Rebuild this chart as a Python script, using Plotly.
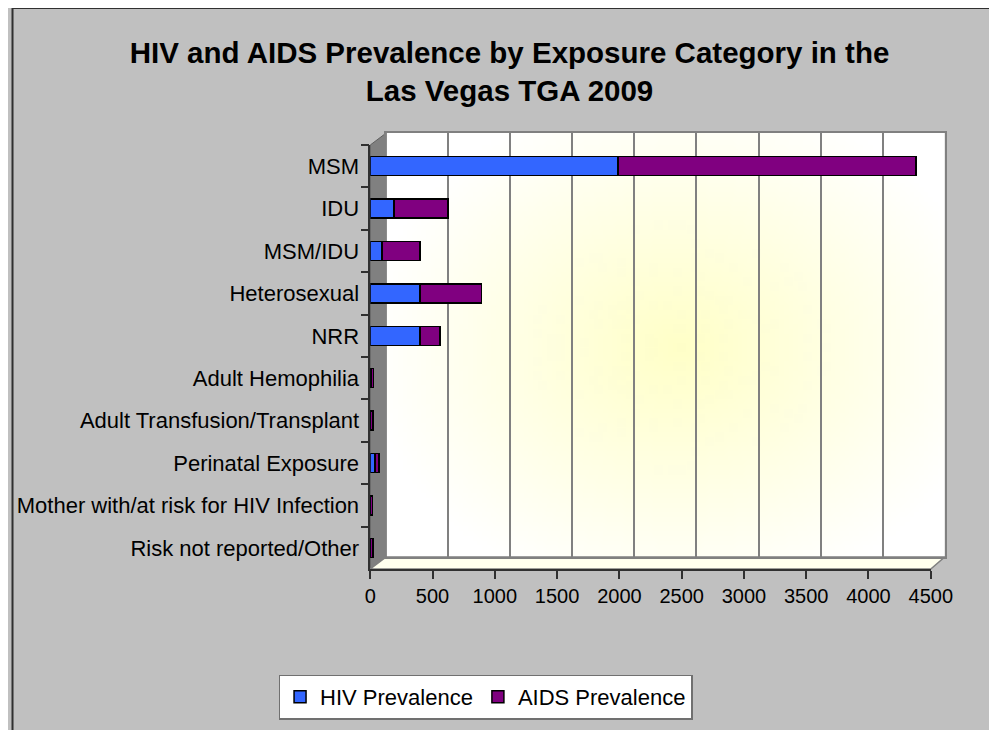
import base64
import struct
import zlib

import numpy as np
from plotly import graph_objs as go

categories = [
    "MSM",
    "IDU",
    "MSM/IDU",
    "Heterosexual",
    "NRR",
    "Adult Hemophilia",
    "Adult Transfusion/Transplant",
    "Perinatal Exposure",
    "Mother with/at risk for HIV Infection",
    "Risk not reported/Other",
]
hiv_prevalence = [1990, 190, 95, 400, 400, 4, 3, 40, 2, 2]
aids_prevalence = [2390, 435, 305, 495, 160, 20, 20, 30, 15, 20]
x_ticks = [0, 500, 1000, 1500, 2000, 2500, 3000, 3500, 4000, 4500]

W, H = 997, 730
# the page puts the figure a bit off the window corner, and a bit narrower
X_OFF, X_SCALE, Y_OFF = 9.5, 0.978, 8


def px(x):
    return (x - X_OFF) / (W * X_SCALE)


def py(y):
    return 1 - (y - Y_OFF) / H


def gradient_png(w=120, h=90):
    # radial white -> pale yellow fill like the excel back wall
    yy, xx = np.mgrid[0:h, 0:w]
    t = np.sqrt(((xx - 0.52 * w) / (0.55 * w)) ** 2 + ((yy - 0.5 * h) / (0.6 * h)) ** 2)
    t = np.clip(t, 0, 1)
    white = np.array([255, 255, 255], float)
    yellow = np.array([255, 255, 200], float)
    img = (yellow[None, None, :] * (1 - t[..., None]) + white * t[..., None]).astype(np.uint8)
    raw = b"".join(b"\x00" + row.tobytes() for row in img)

    def chunk(tag, data):
        return struct.pack(">I", len(data)) + tag + data + struct.pack(">I", zlib.crc32(tag + data) & 0xFFFFFFFF)

    png = (b"\x89PNG\r\n\x1a\n"
           + chunk(b"IHDR", struct.pack(">IIBBBBB", w, h, 8, 2, 0, 0, 0))
           + chunk(b"IDAT", zlib.compress(raw))
           + chunk(b"IEND", b""))
    return "data:image/png;base64," + base64.b64encode(png).decode()


font = "Liberation Sans, Arial, sans-serif"

fig = go.Figure()
# empty trace so the back-wall subplot (grid) gets drawn
fig.add_trace(go.Scatter(x=[], y=[], xaxis="x", yaxis="y", showlegend=False, hoverinfo="skip"))
fig.add_trace(go.Bar(
    name="HIV Prevalence",
    y=categories,
    x=hiv_prevalence,
    orientation="h",
    width=0.45,
    marker=dict(color="#3366FF", line=dict(color="black", width=1.5)),
    xaxis="x2",
    yaxis="y2",
))
fig.add_trace(go.Bar(
    name="AIDS Prevalence",
    y=categories,
    x=aids_prevalence,
    orientation="h",
    width=0.45,
    marker=dict(color="#800080", line=dict(color="black", width=1.5)),
    xaxis="x2",
    yaxis="y2",
))

# back wall (grid only)
back_x0, back_x1, back_y0, back_y1 = 384, 946, 133, 557
# front axes (bars)
fr_x0, fr_x1, fr_y0, fr_y1 = 368, 932, 145, 569

shapes = [
    # chart area border
    dict(type="rect", xref="paper", yref="paper", x0=px(8), x1=px(1100), y0=py(8), y1=py(900),
         line=dict(color="#303030", width=2), layer="below"),
    # left side wall
    dict(type="path", xref="paper", yref="paper",
         path=f"M {px(fr_x0)},{py(fr_y1)} L {px(fr_x0)},{py(fr_y0)} L {px(back_x0)},{py(back_y0)} "
              f"L {px(back_x0)},{py(back_y1)} Z",
         fillcolor="#808080", line=dict(color="#606060", width=1), layer="below"),
    # floor
    dict(type="path", xref="paper", yref="paper",
         path=f"M {px(fr_x0)},{py(fr_y1)} L {px(fr_x1)},{py(fr_y1)} L {px(back_x1)},{py(back_y1)} "
              f"L {px(back_x0)},{py(back_y1)} Z",
         fillcolor="#FFFFEE", line=dict(color="#808080", width=1.5), layer="below"),
]

fig.update_layout(
    width=W,
    height=H,
    margin=dict(l=0, r=0, t=0, b=0),
    paper_bgcolor="#C0C0C0",
    plot_bgcolor="rgba(0,0,0,0)",
    barmode="stack",
    showlegend=True,
    font=dict(family=font, color="black", size=18),
    title=dict(
        text="HIV and AIDS Prevalence by Exposure Category in the<br>Las Vegas TGA 2009",
        x=px(500), y=py(63), xanchor="center", yanchor="middle",
        font=dict(family=font, size=29.5, color="black", weight="bold"),
    ),
    xaxis=dict(
        domain=[px(back_x0), px(back_x1)], anchor="y", range=[0, 4500], tickvals=x_ticks,
        showgrid=True, gridcolor="#808080", gridwidth=1.5, showticklabels=False, ticks="",
        zeroline=False, showline=True, mirror=True, linecolor="#808080", linewidth=1.5,
        fixedrange=True,
    ),
    yaxis=dict(
        domain=[py(back_y1), py(back_y0)], anchor="x", range=[0, 1], showgrid=False,
        showticklabels=False, ticks="", zeroline=False, showline=True, mirror=True,
        linecolor="#808080", linewidth=1.5, fixedrange=True,
    ),
    xaxis2=dict(
        domain=[px(fr_x0), px(fr_x1)], anchor="y2", range=[0, 4500], tickvals=x_ticks,
        showgrid=False, zeroline=False, showline=True, linecolor="#303030", linewidth=1.5,
        ticks="outside", ticklen=8, tickcolor="#303030", tickwidth=1.5,
        tickfont=dict(family=font, size=20, color="black"),
    ),
    yaxis2=dict(
        domain=[py(fr_y1), py(fr_y0)], anchor="x2", autorange="reversed",
        showgrid=False, zeroline=False, showline=True, linecolor="#303030", linewidth=1.5,
        ticks="outside", ticklen=8, tickcolor="#303030", tickwidth=1.5, tickson="boundaries",
        ticklabelstandoff=5,
        tickfont=dict(family=font, size=22, color="black"),
    ),
    legend=dict(
        orientation="h", x=px(484), y=py(697), xanchor="center", yanchor="middle",
        bgcolor="white", bordercolor="#707070", borderwidth=1.5,
        font=dict(family=font, size=22, color="black"),
        itemwidth=30, traceorder="normal",
    ),
    images=[dict(
        source=gradient_png(), xref="paper", yref="paper",
        x=px(back_x0), y=py(back_y0), sizex=px(back_x1) - px(back_x0),
        sizey=py(back_y0) - py(back_y1), sizing="stretch", layer="below",
        xanchor="left", yanchor="top",
    )],
    shapes=shapes,
)

fig.write_html("out.html")
